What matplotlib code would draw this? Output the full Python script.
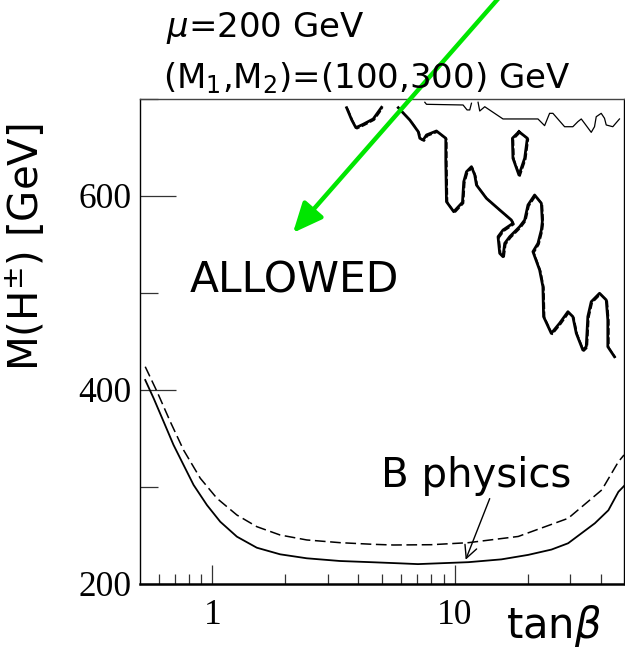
import matplotlib
matplotlib.use('Agg')
import matplotlib.pyplot as plt
from matplotlib.transforms import offset_copy
from matplotlib.ticker import FixedLocator, NullFormatter

plt.rcParams['font.family'] = ['DejaVu Sans']
plt.rcParams['mathtext.fontset'] = 'dejavusans'

# ---------------- data ----------------
# B physics lower bound, solid
bsol_tanb = [0.528, 0.572, 0.629, 0.691, 0.760, 0.836, 0.949, 1.077, 1.262, 1.525,
             1.903, 2.451, 3.363, 4.611, 5.94, 7.05, 11.4, 15.6, 20.1, 25.1,
             29.4, 37.9, 43.1, 47.4, 50]
bsol_mh = [410.3, 391.4, 367.3, 343.3, 322.7, 302.1, 281.4, 264.2, 248.8, 237.4,
           230.6, 226.5, 223.7, 222.4, 221.3, 220.5, 222.5, 225.4, 230, 235.5,
           242, 262.6, 276, 295, 301]
# B physics lower bound, dashed
bdash_tanb = [0.528, 0.591, 0.670, 0.760, 0.891, 1.044, 1.262, 1.525, 1.903, 2.451,
              3.363, 4.611, 5.575, 8.0, 11.4, 18.3, 29.4, 40.5, 47.4, 50]
bdash_mh = [424, 398.2, 367.3, 338.1, 309, 288.3, 271.1, 259.1, 250.5, 245.4,
            242.6, 240.9, 240.2, 240.5, 242.6, 249, 267.7, 297, 326, 333]

# exclusion contour, main jagged piece
cont_tanb = [5.85, 6.53, 7.07, 7.18, 7.41, 7.65, 8.41, 9.19, 9.19, 9.25, 9.91,
             10.77, 10.90, 11.19, 11.73, 12.10, 12.30, 13.52, 15.34, 17.14, 17.40,
             15.83, 15.10, 15.34, 15.83, 16.09, 16.87, 18.54, 19.45, 20.07, 21.38,
             22.79, 23.00, 22.79, 22.07, 21.04, 22.42, 23.13, 23.28, 25.05, 27.11,
             29.34, 30.75, 31.77, 33.81, 34.92, 35.45, 36.62, 39.63, 42.23, 42.87,
             42.87, 45.67]
cont_mh = [691, 678.3, 666.3, 659.5, 657.7, 662.9, 667.0, 659.5, 635.4, 594.1, 583.8,
           593.5, 614.7, 625.0, 630.2, 621.6, 611.3, 597.6, 585.6, 575.2, 571.8,
           564.9, 558.0, 540.9, 537.4, 551.2, 558.0, 568.3, 575.2, 590.7, 601.0,
           592.5, 573.5, 564.9, 551.2, 542.6, 523.7, 506.5, 475.6, 458.4, 468.8,
           480.7, 475.6, 458.4, 441.2, 444.6, 475.6, 491.0, 499.7, 492.8, 472.2,
           444.6, 434.3]
# small piece near the top
piece_tanb = [3.58, 3.76, 3.91, 4.19, 4.61, 4.99]
piece_mh = [691, 678.3, 670.4, 673.9, 679.4, 691.4]
# closed island
oval_tanb = [18.42, 17.31, 17.40, 18.42, 19.45, 19.95, 18.42]
oval_mh = [666.3, 659.5, 638.9, 621.6, 638.9, 659.5, 666.3]
# thin line along the top
thinA_tanb = [7.53, 7.65, 10.83, 11.25, 11.54, 11.73]
thinA_mh = [696.6, 694.5, 693.8, 688.7, 688.7, 695.6]
thinB_tanb = [12.49, 12.69, 13.31, 15.83, 22.07, 23.51, 24.65, 25.44, 28.43, 30.75,
              32.25, 33.31, 34.37, 36.62, 37.78, 38.40, 40.26, 41.54, 42.23, 44.95, 47.90]
thinB_mh = [696.6, 687.6, 692.0, 679.4, 679.4, 672.5, 685.2, 685.2, 671.4, 671.4,
            676.6, 679.4, 674.9, 665.6, 671.4, 681.7, 685.2, 680.1, 673.2, 671.4, 679.4]

# arrows (tail, head)
green_tail = (16.2, 812)
green_head = (2.15, 562)
bphys_tail = (13.95, 288)
bphys_head = (11.1, 225)

xmin, xmax = 0.5, 50
ymin, ymax = 200, 700
y_major = [200, 400, 600]
y_minor = [300, 500, 700]
x_major = [1, 10]
x_minor = [0.6, 0.7, 0.8, 0.9, 2, 3, 4, 5, 6, 7, 8, 9, 20, 30, 40]

# ---------------- figure ----------------
fig = plt.figure(figsize=(6.25, 6.52), dpi=100)
ax = fig.add_axes([0.2232, 0.1043, 0.7752, 0.7439])
ax.set_xscale('log')
ax.set_xlim(xmin, xmax)
ax.set_ylim(ymin, ymax)

ax.plot(bsol_tanb, bsol_mh, color='black', lw=1.3, solid_joinstyle='round')
ld, = ax.plot(bdash_tanb, bdash_mh, color='black', lw=1.1)
ld.set_dashes((7, 3))

shift = offset_copy(ax.transData, fig=fig, x=1.0, y=-1.0, units='dots')
for xs, ys in [(cont_tanb, cont_mh), (piece_tanb, piece_mh), (oval_tanb, oval_mh)]:
    ax.plot(xs, ys, color='black', lw=2.0, solid_joinstyle='round')
    l2, = ax.plot(xs, ys, color='black', lw=1.2, transform=shift)
    l2.set_dashes((4, 1.5))
ax.plot(thinA_tanb, thinA_mh, color='black', lw=0.9)
ax.plot(thinB_tanb, thinB_mh, color='black', lw=0.9)

ax.annotate('', xy=green_head, xytext=green_tail, annotation_clip=False,
            arrowprops=dict(arrowstyle='-|>,head_length=0.9,head_width=0.4',
                            mutation_scale=20, color='#00e600', lw=3.2,
                            shrinkA=0, shrinkB=0))
ax.annotate('', xy=bphys_head, xytext=bphys_tail,
            arrowprops=dict(arrowstyle='->,head_length=0.6,head_width=0.3',
                            mutation_scale=15, color='black', lw=1.0,
                            shrinkA=0, shrinkB=0))

# ticks
ax.xaxis.set_major_locator(FixedLocator(x_major))
ax.xaxis.set_minor_locator(FixedLocator(x_minor))
ax.xaxis.set_minor_formatter(NullFormatter())
ax.set_xticklabels(['1', '10'])
ax.yaxis.set_major_locator(FixedLocator(y_major))
ax.yaxis.set_minor_locator(FixedLocator(y_minor))
ax.set_yticklabels([str(v) for v in y_major])
ax.tick_params(axis='both', which='both', direction='in', top=False, right=False,
               color='#333333', width=0.9)
ax.tick_params(axis='y', which='major', length=26, pad=6)
ax.tick_params(axis='y', which='minor', length=13)
ax.tick_params(axis='x', which='major', length=14, pad=11)
ax.tick_params(axis='x', which='minor', length=7.5)
for lab in ax.get_xticklabels() + ax.get_yticklabels():
    lab.set_fontfamily('Liberation Serif')
    lab.set_fontsize(25.5)

for side in ['left', 'top', 'right']:
    ax.spines[side].set_linewidth(1.0)
ax.spines['top'].set_color('#444444')
ax.spines['bottom'].set_linewidth(1.8)

# texts
W, H = 625, 652
fig.text(166 / W, 1 - 36.5 / H, r'$\mu$=200 GeV', fontsize=24.5, ha='left', va='baseline')
fig.text(163 / W, 1 - 88 / H, r'(M$_1$,M$_2$)=(100,300) GeV', fontsize=24.5,
         ha='left', va='baseline')
fig.text(190 / W, 1 - 292.7 / H, 'ALLOWED', fontsize=30.5, ha='left', va='baseline')
fig.text(381 / W, 1 - 486.7 / H, 'B physics', fontsize=29, ha='left', va='baseline')
fig.text(506 / W, 1 - 638 / H, r'tan$\beta$', fontsize=30, ha='left', va='baseline')
fig.text(26.5 / W, 1 - 247 / H, r'M(H$^{\pm}$) [GeV]', fontsize=29, rotation=90,
         ha='center', va='center')

fig.savefig('out.png', dpi=100)
